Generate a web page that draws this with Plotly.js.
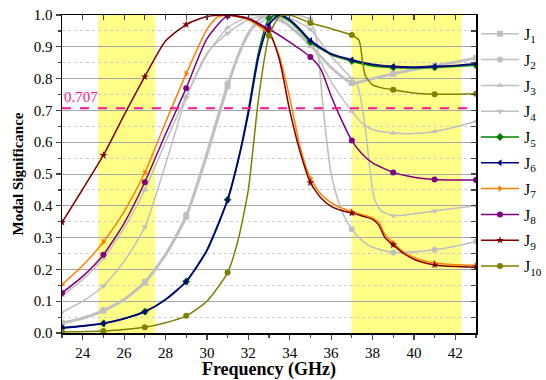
<!DOCTYPE html>
<html><head><meta charset="utf-8">
<script src="https://cdn.plot.ly/plotly-3.0.1.min.js"></script>
<style>body{margin:0;background:#fff}#chart{width:546px;height:380px}</style>
</head><body><div id="chart"></div>
<script>
// ---- data ----
const seriesNames = ['J<sub>1</sub>','J<sub>2</sub>','J<sub>3</sub>','J<sub>4</sub>','J<sub>5</sub>','J<sub>6</sub>','J<sub>7</sub>','J<sub>8</sub>','J<sub>9</sub>','J<sub>10</sub>'];
const markerFreqs = [23,25,27,29,31,33,35,37,39,41,43];

const j1x = [23,24,25,26,27,28,29,30,31,31.5,32,32.5,33,33.5,34,35,36,37,38,39,40,41,42,43];
const j1y = [0.031,0.046,0.07,0.105,0.159,0.245,0.366,0.56,0.776,0.87,0.94,0.985,1.0,0.99,0.965,0.905,0.835,0.786,0.80,0.815,0.828,0.84,0.852,0.865];
const j2x = [23,24,25,26,27,28,29,30,31,32,33,33.5,34,34.5,35,35.3,35.6,36,36.5,37,37.5,38,39,40,41,42,43];
const j2y = [0.033,0.048,0.072,0.108,0.162,0.25,0.372,0.57,0.785,0.945,0.992,1.0,1.0,0.998,0.985,0.92,0.72,0.50,0.385,0.326,0.29,0.27,0.253,0.255,0.262,0.273,0.288];
const j3x = [23,24,25,26,27,28,29,30,31,32,32.5,33,34,35,36,37,37.5,38,39,40,41,42,43];
const j3y = [0.118,0.168,0.235,0.33,0.45,0.6,0.744,0.875,0.96,0.995,1.0,0.995,0.965,0.91,0.79,0.697,0.66,0.64,0.629,0.627,0.634,0.648,0.666];
const j4x = [23,24,25,26,27,28,29,30,31,32,33,34,35,36,37,37.3,37.5,37.7,37.9,38.1,38.4,39,40,41,42,43];
const j4y = [0.065,0.1,0.148,0.225,0.333,0.53,0.74,0.88,0.943,0.985,1.0,0.99,0.955,0.87,0.80,0.775,0.71,0.62,0.50,0.42,0.385,0.369,0.375,0.384,0.392,0.40];
const j5x = [23,24,25,26,27,28,29,30,31,31.5,32,32.5,33,33.4,34,34.5,35,36,37,38,39,40,41,42,43];
const j5y = [0.016,0.022,0.030,0.045,0.067,0.105,0.162,0.26,0.419,0.54,0.70,0.885,0.99,1.0,0.98,0.95,0.915,0.875,0.855,0.84,0.835,0.833,0.835,0.838,0.842];
const j6x = [23,24,25,26,27,28,29,30,31,31.5,32,32.5,33,33.5,34,34.5,35,36,37,38,39,40,41,42,43];
const j6y = [0.016,0.022,0.030,0.045,0.067,0.105,0.162,0.26,0.419,0.54,0.69,0.87,0.97,1.0,0.985,0.955,0.92,0.878,0.859,0.845,0.838,0.836,0.838,0.841,0.846];
const j7x = [23,24,25,26,27,28,29,30,30.5,31,32,33,33.5,34,34.5,35,35.5,36,36.5,37,37.5,38,38.3,38.6,39,39.5,40,40.5,41,42,43];
const j7y = [0.152,0.212,0.286,0.382,0.504,0.662,0.815,0.955,0.993,1.0,0.985,0.94,0.87,0.74,0.585,0.487,0.437,0.41,0.393,0.382,0.372,0.362,0.348,0.31,0.283,0.255,0.238,0.227,0.22,0.215,0.213];
const j8x = [23,24,25,26,27,28,29,30,31,32,33,34,35,35.5,36,36.5,37,37.5,38,39,40,41,42,43];
const j8y = [0.126,0.178,0.246,0.345,0.474,0.625,0.770,0.925,0.998,0.99,0.956,0.915,0.868,0.83,0.745,0.67,0.605,0.563,0.535,0.505,0.490,0.483,0.481,0.481];
const j9x = [23,24,25,26,27,28,29,30,31,32,33,33.5,34,34.5,35,35.5,36,36.5,37,37.5,38,38.3,38.6,39,39.5,40,40.5,41,42,43];
const j9y = [0.348,0.452,0.559,0.685,0.806,0.918,0.970,0.995,1.0,0.988,0.947,0.86,0.70,0.57,0.473,0.425,0.398,0.385,0.377,0.368,0.357,0.34,0.30,0.277,0.25,0.232,0.221,0.214,0.209,0.207];
const j10x = [23,25,27,28,29,30,31,31.5,32,32.5,33,33.5,34,35,36,37,37.35,37.5,37.65,38,38.5,39,40,41,42,43];
const j10y = [0.003,0.006,0.018,0.032,0.054,0.10,0.19,0.29,0.45,0.74,0.935,0.995,1.0,0.975,0.957,0.937,0.92,0.864,0.81,0.78,0.77,0.765,0.755,0.751,0.751,0.752];

const threshold = 0.707;
const band1 = [24.75, 27.5];
const band2 = [37.0, 42.3];

// ---- styles ----
const xs = [j1x,j2x,j3x,j4x,j5x,j6x,j7x,j8x,j9x,j10x];
const ys = [j1y,j2y,j3y,j4y,j5y,j6y,j7y,j8y,j9y,j10y];
const colors = ['#c0c0c0','#c0c0c0','#c0c0c0','#c0c0c0','#008000','#000080','#ff8000','#800080','#800000','#808000'];
const symbols = ['square','circle','triangle-up','triangle-down','diamond','triangle-left','triangle-right','circle','star','circle'];
const lineW = [2.8,1.6,1.5,1.5,1.6,1.8,1.5,1.5,1.5,1.5];

const traces = [];
for (let i = 0; i < 10; i++) {
  traces.push({x: xs[i], y: ys[i], mode: 'lines', type: 'scatter',
    line: {color: colors[i], width: lineW[i], shape: 'spline', smoothing: 0.6},
    showlegend: false, hoverinfo: 'skip'});
  const mx = [], my = [];
  xs[i].forEach((v, k) => { if (markerFreqs.includes(v)) { mx.push(v); my.push(ys[i][k]); } });
  traces.push({x: mx, y: my, mode: 'markers', type: 'scatter',
    marker: {color: colors[i], symbol: symbols[i], size: 6}, showlegend: false, hoverinfo: 'skip'});
}
for (let i = 0; i < 10; i++) {
  traces.push({x: [null], y: [null], mode: 'lines+markers', type: 'scatter', name: seriesNames[i],
    legendgroup: 'g' + i,
    line: {color: colors[i], width: 1.5}, marker: {color: colors[i], symbol: symbols[i], size: 6}});
}
traces.push({x: [null], y: [null], xaxis: 'x2', yaxis: 'y2', showlegend: false, hoverinfo: 'skip', mode: 'lines'});

const serif = 'Liberation Serif, Times New Roman, serif';
const layout = {
  width: 546, height: 380,
  margin: {l: 62, r: 70, t: 15, b: 47, autoexpand: false},
  paper_bgcolor: '#fff', plot_bgcolor: '#fff',
  font: {family: serif, size: 14, color: '#000'},
  showlegend: true,
  legend: {x: 1.0, xanchor: 'left', y: 0.994, yanchor: 'top', traceorder: 'grouped', tracegroupgap: 2,
    itemwidth: 38, font: {family: serif, size: 16}, bgcolor: 'rgba(0,0,0,0)'},
  xaxis: {range: [23, 43], tick0: 24, dtick: 2, ticks: 'outside', ticklen: 5, tickwidth: 1.2,
    showline: true, linecolor: '#000', linewidth: 1.5, showgrid: false, zeroline: false,
    minor: {dtick: 1, ticks: 'outside', ticklen: 3, tickwidth: 1.2},
    tickfont: {size: 15}, title: {text: '<b>Frequency (GHz)</b>', font: {size: 18}, standoff: 6}},
  yaxis: {range: [0, 1], dtick: 0.1, tickformat: '.1f', ticks: 'outside', ticklen: 5, tickwidth: 1.2,
    showline: true, linecolor: '#000', linewidth: 1.5, zeroline: false,
    showgrid: true, gridcolor: '#a8a8a8', gridwidth: 1,
    minor: {dtick: 0.05, ticks: 'outside', ticklen: 3, tickwidth: 1.2, showgrid: true, gridcolor: '#cccccc', griddash: 'dot', gridwidth: 1},
    tickfont: {size: 15}, title: {text: '<b>Modal Significance</b>', font: {size: 15}, standoff: 6}},
  xaxis2: {overlaying: 'x', side: 'top', range: [23, 43], tick0: 24, dtick: 2, ticks: 'inside', ticklen: 5,
    tickwidth: 1.2, showticklabels: false, showline: true, linecolor: '#000', linewidth: 1.5, showgrid: false, zeroline: false,
    minor: {dtick: 1, ticks: 'inside', ticklen: 5, tickwidth: 1.2}},
  yaxis2: {overlaying: 'y', side: 'right', range: [0, 1], dtick: 0.1, ticks: 'inside', ticklen: 5, tickwidth: 1.2,
    showticklabels: false, showline: true, linecolor: '#000', linewidth: 1.5, showgrid: false, zeroline: false,
    minor: {dtick: 0.05, ticks: 'inside', ticklen: 5, tickwidth: 1.2}},
  shapes: [
    {type: 'rect', xref: 'x', yref: 'y', x0: band1[0], x1: band1[1], y0: 0, y1: 1, fillcolor: '#ffff88', line: {width: 0}, layer: 'below'},
    {type: 'rect', xref: 'x', yref: 'y', x0: band2[0], x1: band2[1], y0: 0, y1: 1, fillcolor: '#ffff88', line: {width: 0}, layer: 'below'},
    {type: 'line', xref: 'x', yref: 'y', x0: 23, x1: 43, y0: threshold, y1: threshold, line: {color: '#ff1493', width: 2, dash: 'dash'}, layer: 'above'}
  ],
  annotations: [
    {x: 23, y: threshold, xref: 'x', yref: 'y', text: String(threshold), showarrow: false, xanchor: 'left', yanchor: 'bottom', xshift: 0, yshift: 1,
     font: {family: serif, size: 15, color: '#ff1493'}}
  ]
};
Plotly.newPlot('chart', traces, layout, {staticPlot: true});
</script>
</body></html>
